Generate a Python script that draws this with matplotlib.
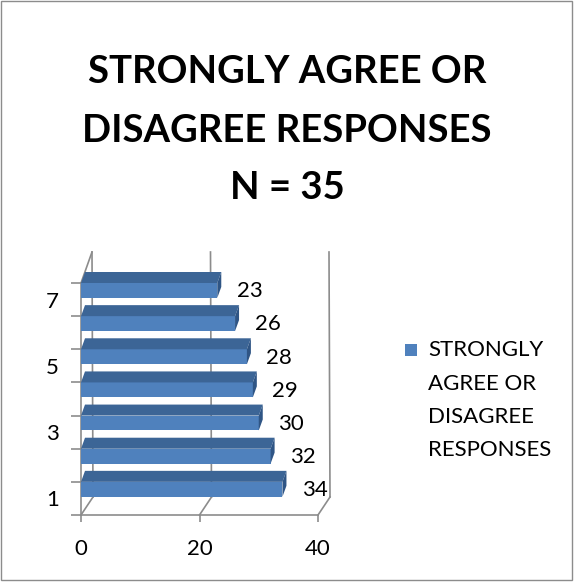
import matplotlib
matplotlib.use('Agg')
import matplotlib.pyplot as plt
from matplotlib.patches import Polygon, Rectangle
import numpy as np

# ── Data ──────────────────────────────────────────────────────────────────
categories = [1, 2, 3, 4, 5, 6, 7]
values     = [34, 32, 30, 29, 28, 26, 23]
ytick_lbls = [1, 3, 5, 7]
xtick_vals = [0, 20, 40]
series     = ['STRONGLY', 'AGREE OR', 'DISAGREE', 'RESPONSES']
title      = ['STRONGLY AGREE OR', 'DISAGREE RESPONSES', 'N = 35']

# ── Style ─────────────────────────────────────────────────────────────────
plt.rcParams['font.family'] = ['Lato', 'DejaVu Sans']
FRONT = '#4F81BD'
TOP   = '#3C6596'
CAP   = '#2F5585'
GRID  = '#8C8C8C'

W, H = 574, 584
fig = plt.figure(figsize=(W / 100, H / 100), dpi=100)
fig.patches.append(Rectangle((0.002, 0.006), 0.994, 0.992, transform=fig.transFigure,
                             fill=False, edgecolor='#8C8C8C', linewidth=1))

# front plane of the plot area (pixels -> figure fraction)
L, R, B, T = 81, 318, 515, 283
ax = fig.add_axes([L / W, 1 - B / H, (R - L) / W, (B - T) / H])
ax.set_xlim(0, 40)
ax.set_ylim(0.5, 7.5)
ax.patch.set_visible(False)

ux = (R - L) / 40.0       # px per x unit
uy = (B - T) / 7.0        # px per y unit

# back wall / floor (pseudo 3-D)
bb = (12 / ux, 18 / uy)   # back offset at floor
bt = (11 / ux, 31 / uy)   # back offset at top
for xv in xtick_vals:
    ax.plot([xv + bb[0], xv + bt[0]], [0.5 + bb[1], 7.5 + bt[1]],
            color=GRID, lw=1.2, clip_on=False, zorder=1)
    ax.plot([xv, xv + bb[0]], [0.5, 0.5 + bb[1]],
            color=GRID, lw=1.2, clip_on=False, zorder=1)
ax.plot([0, bt[0]], [7.5, 7.5 + bt[1]], color=GRID, lw=1.2, clip_on=False, zorder=1)

# bars: front face + top + end cap
dx, dy = 4 / ux, 11 / uy
y0 = np.array(categories) + 0.05
hgt = 0.45
ax.barh(y0, values, height=hgt, align='edge', color=FRONT, zorder=3, clip_on=False)
for yb, v in zip(y0, values):
    y1 = yb + hgt
    ax.add_patch(Polygon([(0, y1), (v, y1), (v + dx, y1 + dy), (dx, y1 + dy)],
                         closed=True, facecolor=TOP, edgecolor='none', zorder=3, clip_on=False))
    ax.add_patch(Polygon([(v, yb), (v, y1), (v + dx, y1 + dy), (v + dx, yb + dy)],
                         closed=True, facecolor=CAP, edgecolor='none', zorder=3, clip_on=False))
    ax.text(v + 3.3, yb + 0.2, str(v), ha='left', va='center', fontsize=16, zorder=4)

# axes
for s in ['top', 'right']:
    ax.spines[s].set_visible(False)
for s in ['left', 'bottom']:
    ax.spines[s].set_color(GRID)
    ax.spines[s].set_linewidth(1.2)
ax.set_yticks(ytick_lbls)
ax.set_yticklabels([str(t) for t in ytick_lbls], fontsize=16)
ax.set_yticks(np.arange(0.5, 8.0, 1.0), minor=True)
ax.tick_params(axis='y', which='major', length=0, pad=16)
ax.tick_params(axis='y', which='minor', length=7, color=GRID, width=1.2)
ax.set_xticks(xtick_vals)
ax.set_xticklabels([str(t) for t in xtick_vals], fontsize=16)
ax.tick_params(axis='x', length=5, color=GRID, width=1.2, pad=12)

# title
for yc, line in zip([72, 131, 188], title):
    fig.text(287 / W, 1 - yc / H, line, ha='center', va='center', fontsize=27.5,
             fontweight='bold')

# legend
fig.patches.append(Rectangle((405 / W, 1 - 356 / H), 12 / W, 12 / H,
                             transform=fig.transFigure, facecolor=FRONT, edgecolor='none'))
for yc, line in zip([350, 384, 417, 450], series):
    fig.text(428 / W, 1 - yc / H, line, ha='left', va='center', fontsize=16)

fig.savefig('out.png', dpi=100)
